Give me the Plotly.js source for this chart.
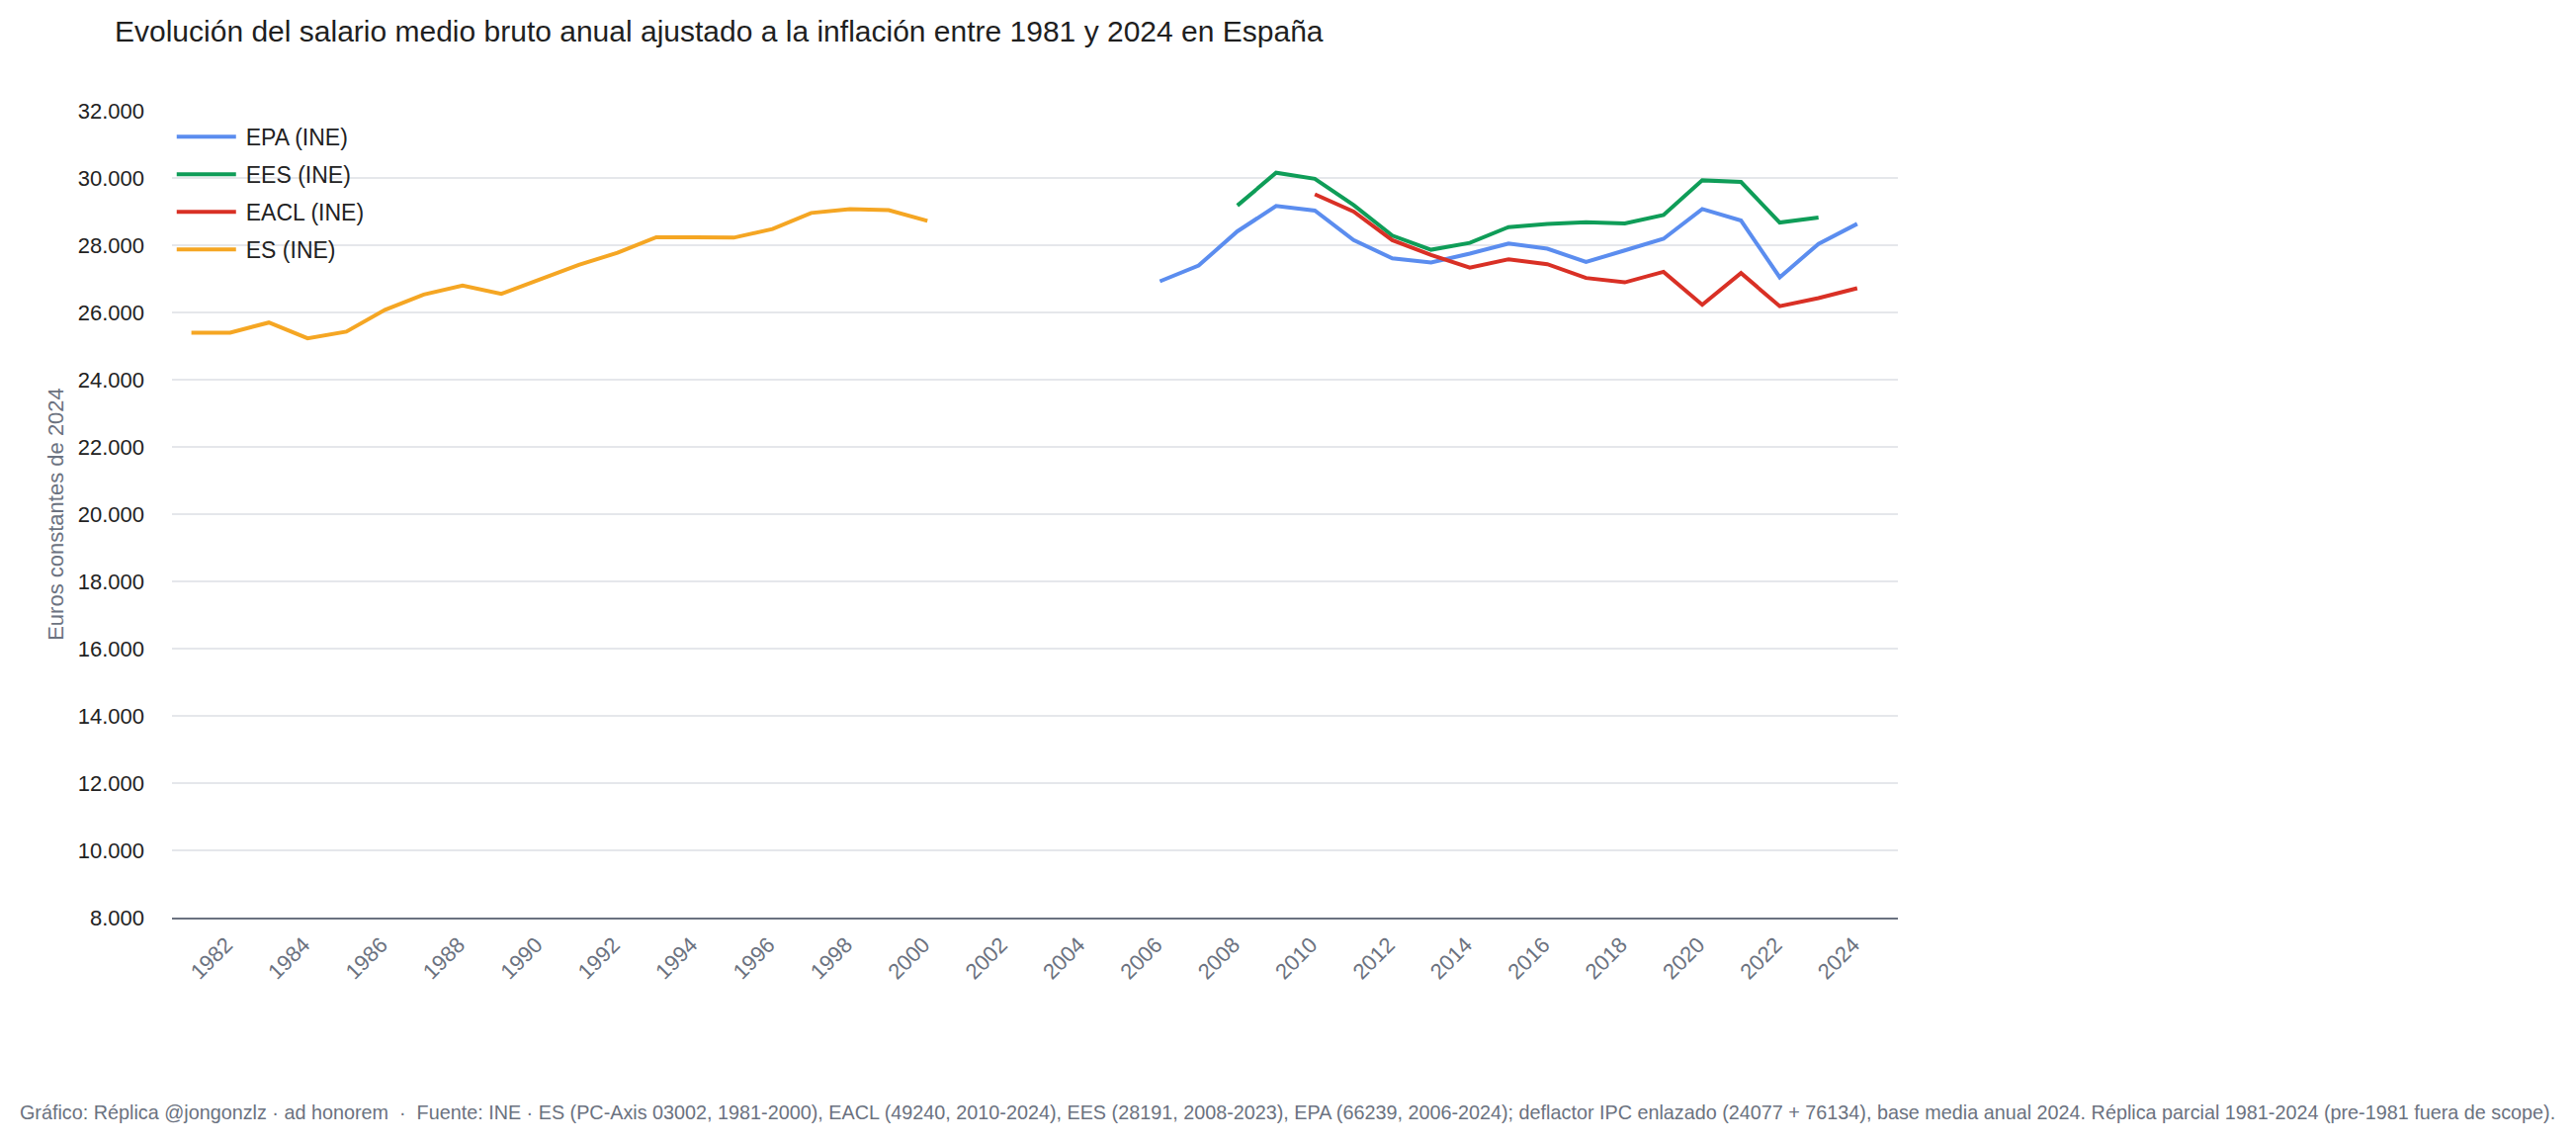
<!DOCTYPE html>
<html>
<head>
<meta charset="utf-8">
<script src="https://cdn.plot.ly/plotly-3.0.1.min.js"></script>
<style>
html, body { margin:0; padding:0; background:#fff; overflow:hidden; width:2606px; height:1157px; }
#wrap { width:1303px; height:578.5px; transform:scale(2); transform-origin:0 0; }
#chart { width:1303px; height:578.5px; }
</style>
</head>
<body>
<div id="wrap"><div id="chart"></div></div>
<script>
// ---- Data (euros constantes de 2024) ----
const yearsES   = [1981,1982,1983,1984,1985,1986,1987,1988,1989,1990,1991,1992,1993,1994,1995,1996,1997,1998,1999,2000];
const valuesES  = [25400,25400,25700,25230,25430,26080,26535,26800,26555,26995,27415,27775,28235,28235,28225,28480,28960,29075,29045,28725];

const yearsEPA  = [2006,2007,2008,2009,2010,2011,2012,2013,2014,2015,2016,2017,2018,2019,2020,2021,2022,2023,2024];
const valuesEPA = [26926,27395,28413,29165,29030,28150,27610,27485,27750,28050,27895,27505,27845,28190,29075,28735,27045,28040,28635];

const yearsEES  = [2008,2009,2010,2011,2012,2013,2014,2015,2016,2017,2018,2019,2020,2021,2022,2023];
const valuesEES = [29180,30155,29975,29195,28285,27865,28070,28540,28635,28685,28645,28900,29930,29880,28675,28825];

const yearsEACL  = [2010,2011,2012,2013,2014,2015,2016,2017,2018,2019,2020,2021,2022,2023,2024];
const valuesEACL = [29515,29000,28150,27710,27335,27580,27435,27025,26895,27210,26230,27170,26185,26425,26720];

const seriesNames = ['EPA (INE)','EES (INE)','EACL (INE)','ES (INE)'];

const titleText  = 'Evolución del salario medio bruto anual ajustado a la inflación entre 1981 y 2024 en España';
const yTitleText = 'Euros constantes de 2024';
const footerText = 'Gráfico: Réplica @jongonzlz · ad honorem \u00a0·\u00a0 Fuente: INE · ES (PC-Axis 03002, 1981-2000), EACL (49240, 2010-2024), EES (28191, 2008-2023), EPA (66239, 2006-2024); deflactor IPC enlazado (24077 + 76134), base media anual 2024. Réplica parcial 1981-2024 (pre-1981 fuera de scope).';

// ---- Styles ----
const colors = { EPA:'#5B8DEF', EES:'#0F9D58', EACL:'#D93025', ES:'#F5A623' };
const FONT = 'Liberation Sans, Arial, Helvetica, sans-serif';

function tr(x, y, name, color) {
  return { x:x, y:y, name:name, type:'scatter', mode:'lines',
           line:{ color:color, width:2 }, hoverinfo:'skip' };
}

const data = [
  tr(yearsEPA,  valuesEPA,  seriesNames[0], colors.EPA),
  tr(yearsEES,  valuesEES,  seriesNames[1], colors.EES),
  tr(yearsEACL, valuesEACL, seriesNames[2], colors.EACL),
  tr(yearsES,   valuesES,   seriesNames[3], colors.ES)
];

const layout = {
  width:1303, height:578.5,
  margin:{ l:87, r:343, t:56, b:114.5, pad:0 },
  paper_bgcolor:'#ffffff', plot_bgcolor:'#ffffff',
  font:{ family:FONT, size:11, color:'#222222' },
  separators:',.',
  hovermode:false,
  title:{ text:titleText, x:58/1303, xref:'container', xanchor:'left',
          y:1-15.8/578.5, yref:'container', yanchor:'middle',
          font:{ family:FONT, size:15, color:'#1f1f1f' } },
  xaxis:{ range:[1980.5, 2025.05], tickmode:'linear', tick0:1982, dtick:2,
          tickangle:-45, tickfont:{ family:FONT, size:11, color:'#6b7280' },
          showgrid:false, zeroline:false, showline:true, linecolor:'#6b7280', linewidth:1,
          ticks:'', ticklabelstandoff:2, ticklabelshift:-2 },
  yaxis:{ range:[8000, 32000], tickmode:'linear', tick0:8000, dtick:2000, tickformat:',d',
          tickfont:{ family:FONT, size:11, color:'#222222' },
          showgrid:true, gridcolor:'#e5e7eb', gridwidth:1, zeroline:false, showline:false,
          ticks:'', ticklabelstandoff:13,
          title:{ text:yTitleText, standoff:4, font:{ family:FONT, size:11, color:'#6b7280' } } },
  legend:{ x:-0.003, y:1.0035, xanchor:'left', yanchor:'top', bgcolor:'rgba(0,0,0,0)',
           font:{ family:FONT, size:11.5, color:'#222222' } },
  showlegend:true,
  annotations:[{ text:footerText, xref:'paper', yref:'paper', x:(651.5-87)/873, y:-98/408, xanchor:'center', yanchor:'middle',
                 showarrow:false, font:{ family:FONT, size:9.9, color:'#6b7280' } }]
};

Plotly.newPlot('chart', data, layout, { staticPlot:true, displayModeBar:false });
</script>
</body>
</html>
